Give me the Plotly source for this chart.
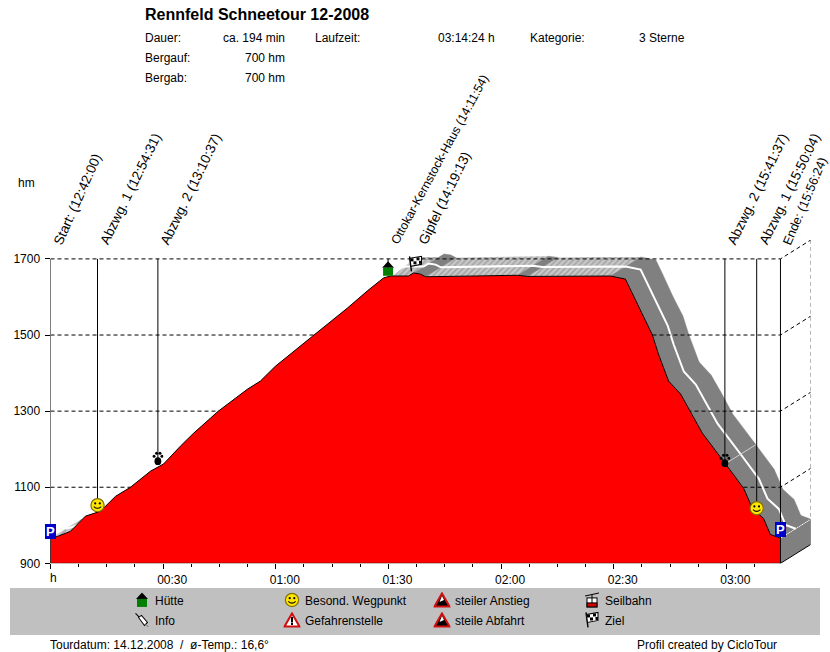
import base64
import plotly.graph_objects as go

W, H = 830, 652
FONT = "Liberation Sans"

# Hoehenprofil (minutes since start, hm)
profile_time = [0, 1.9, 5.3, 9.3, 13.3, 17.3, 21.3, 26.6, 30.1, 34.6, 38.1, 44.7, 52.5, 55.9, 59.9,
                69.8, 79.1, 84.4, 88.7, 90.5, 95.3, 96.7, 98.5, 99.9, 109.2, 124.4, 127.0, 137.1,
                149.1, 153.1, 155.0, 157.7, 160.3, 161.9, 164.6, 167.8, 170.4, 173.6, 179.8,
                184.6, 186.9, 189.9, 191.7, 194.4]
profile_height = [966, 971, 984, 1024, 1037, 1076, 1100, 1142, 1161, 1208, 1242, 1300, 1358, 1379, 1418,
                  1497, 1571, 1616, 1650, 1655, 1655, 1663, 1660, 1653, 1655, 1657, 1654, 1655,
                  1655, 1647, 1608, 1550, 1500, 1450, 1379, 1345, 1300, 1242, 1161,
                  1097, 1045, 1018, 976, 966]

# Wegpunkte: stem top is always the 1700 line
label_text = ["Start: (12:42:00)", "Abzwg. 1 (12:54:31)", "Abzwg. 2 (13:10:37)",
              "Ottokar-Kernstock-Haus (14:11:54)", "Gipfel (14:19:13)",
              "Abzwg. 2 (15:41:37)", "Abzwg. 1 (15:50:04)", "Ende: (15:56:24)"]
label_time = [0, 12.52, 28.6, 89.9, 97.2, 179.6, 188.07, 194.4]
stem_bottom = [900, 1053, 1176, 1674, 1687, 1171, 1045, 900]
icon_name = ["P", "smiley", "paw", "hut", "flag", "paw", "smiley", "P"]
icon_height = [984, 1053, 1176, 1674, 1687, 1171, 1045, 989]

grid_levels = [1700, 1500, 1300, 1100]
y_ticks = [900, 1100, 1300, 1500, 1700]
x_ticks = [0, 30, 60, 90, 120, 150, 180]
x_ticktext = ["", "00:30", "01:00", "01:30", "02:00", "02:30", "03:00"]
x_minor = [7.5, 15, 22.5, 37.5, 45, 52.5, 67.5, 75, 82.5, 97.5, 105, 112.5, 127.5, 135, 142.5,
           157.5, 165, 172.5, 187.5]

end_time = 194.4
depth_time = 8.12    # 3d offset of the back wall
depth_height = 50

header_rows = [("Dauer:", 145, "left", 38), ("ca. 194 min", 285, "right", 38),
               ("Laufzeit:", 315, "left", 38), ("03:14:24 h", 495, "right", 38),
               ("Kategorie:", 530, "left", 38), ("3 Sterne", 639, "left", 38),
               ("Bergauf:", 145, "left", 58), ("700 hm", 285, "right", 58),
               ("Bergab:", 145, "left", 78), ("700 hm", 285, "right", 78)]

legend_text = ["Hütte", "Info", "Besond. Wegpunkt", "Gefahrenstelle",
               "steiler Anstieg", "steile Abfahrt", "Seilbahn", "Ziel"]
legend_icon = ["hut", "pin", "smiley", "danger", "steep", "steep", "cable", "flag"]
legend_x = [155, 155, 305, 305, 455, 455, 605, 605]
legend_y = [600, 620, 600, 620, 600, 620, 600, 620]


def svg(w, h, body):
    raw = f'<svg xmlns="http://www.w3.org/2000/svg" width="{w}" height="{h}" viewBox="0 0 {w} {h}">{body}</svg>'
    return "data:image/svg+xml;base64," + base64.b64encode(raw.encode()).decode()


ICONS = {
    "hut": (12, 15, svg(12, 15, '<polygon points="6,0 12,6.5 0,6.5" fill="#000"/>'
                                '<rect x="1" y="6.5" width="10" height="8" fill="#008000"/>')),
    "smiley": (15, 15, svg(15, 15, '<circle cx="7.5" cy="7.5" r="6.6" fill="#ffe600" stroke="#807000" stroke-width="1.2"/>'
                                   '<circle cx="5.2" cy="5.8" r="1.1" fill="#000"/><circle cx="9.8" cy="5.8" r="1.1" fill="#000"/>'
                                   '<path d="M3.8 9 Q7.5 12.4 11.2 9" fill="none" stroke="#000" stroke-width="1"/>')),
    "paw": (11, 14, svg(11, 14, '<ellipse cx="5.5" cy="10" rx="3.4" ry="4" fill="#000"/>'
                                '<circle cx="1.6" cy="5" r="1.5" fill="#000"/><circle cx="4.2" cy="2" r="1.5" fill="#000"/>'
                                '<circle cx="7.6" cy="2" r="1.5" fill="#000"/><circle cx="9.6" cy="5" r="1.5" fill="#000"/>')),
    "flag": (14, 17, svg(14, 17, '<path d="M1 1 L3 16" stroke="#000" stroke-width="1.4"/>'
                                 '<polygon points="1.5,3 13,1 13,9 2.5,11" fill="#fff" stroke="#000"/>'
                                 '<rect x="2" y="3" width="3" height="3" fill="#000"/><rect x="8" y="2" width="3" height="3" fill="#000"/>'
                                 '<rect x="5" y="6" width="3" height="3" fill="#000"/><rect x="10.5" y="5.5" width="2.5" height="3" fill="#000"/>')),
    "pin": (15, 15, svg(15, 15, '<path d="M1 1 L5 5" stroke="#000"/>'
                                '<polygon points="4,5 7,3 13,10 10,13" fill="#fff" stroke="#000"/>'
                                '<path d="M11 12 L14 14.5" stroke="#808080"/>')),
    "danger": (17, 16, svg(17, 16, '<polygon points="8.5,1.5 16,14.5 1,14.5" fill="#fff" stroke="#d01010" stroke-width="2"/>'
                                   '<rect x="7.5" y="5" width="2" height="5.5" fill="#000"/><rect x="7.5" y="11" width="2" height="2" fill="#000"/>')),
    "steep": (17, 16, svg(17, 16, '<polygon points="8.5,1.5 16,14.5 1,14.5" fill="#000" stroke="#d01010" stroke-width="2"/>'
                                  '<polygon points="8.5,4 10.5,8 6,10" fill="#fff"/>')),
    "cable": (14, 16, svg(14, 16, '<path d="M0 4 L14 1" stroke="#000"/><path d="M7 3 V6" stroke="#000"/>'
                                  '<rect x="2" y="6" width="10" height="9" fill="#fff" stroke="#000"/>'
                                  '<rect x="2" y="11" width="10" height="4" fill="#d00000" stroke="#000"/>'
                                  '<path d="M7 6 V11" stroke="#000"/>')),
}


def px(x):
    return x / W


def py(y):
    return 1 - y / H


def page_text(text, x, y, anchor="left", size=12):
    return dict(text=text, x=px(x), y=py(y), xref="paper", yref="paper", xanchor=anchor, yanchor="middle",
                showarrow=False, borderpad=0, borderwidth=0, font=dict(family=FONT, size=size, color="#000"))


fig = go.Figure()

# 3d band behind the profile, one quad per profile segment
hatch_x, hatch_y, dark_x, dark_y = [], [], [], []
for i in range(len(profile_time) - 1):
    t0, t1 = profile_time[i], profile_time[i + 1]
    h0, h1 = profile_height[i], profile_height[i + 1]
    qx = [t0, t1, t1 + depth_time, t0 + depth_time, t0, None]
    qy = [h0, h1, h1 + depth_height, h0 + depth_height, h0, None]
    if h1 >= h0:
        hatch_x += qx
        hatch_y += qy
    else:
        dark_x += qx
        dark_y += qy

fig.add_trace(go.Scatter(x=hatch_x, y=hatch_y, mode="lines", fill="toself", line=dict(width=0),
                         fillcolor="#c0c0c0",
                         fillpattern=dict(shape="/", bgcolor="#c8c8c8", fgcolor="#808080", size=4, solidity=0.4)))
fig.add_trace(go.Scatter(x=dark_x, y=dark_y, mode="lines", fill="toself", line=dict(width=0.5, color="#808080"),
                         fillcolor="#808080"))

# end wall
end_h = profile_height[-1]
fig.add_trace(go.Scatter(x=[end_time, end_time + depth_time, end_time + depth_time, end_time, end_time],
                         y=[900, 900 + depth_height, end_h + depth_height, end_h, 900],
                         mode="lines", fill="toself", fillcolor="#808080", line=dict(color="#000", width=1)))
fig.add_trace(go.Scatter(x=[end_time, end_time + depth_time], y=[end_h, end_h + depth_height],
                         mode="lines", line=dict(color="#fff", width=1)))

# white centre line of the band
fig.add_trace(go.Scatter(x=[t + depth_time / 2 for t in profile_time],
                         y=[h + depth_height / 2 for h in profile_height],
                         mode="lines", line=dict(color="#fff", width=2)))
# thin cross line at the lower Abzwg. 2
fig.add_trace(go.Scatter(x=[label_time[5], label_time[5] + depth_time], y=[1161, 1161 + depth_height],
                         mode="lines", line=dict(color="#d0d0d0", width=1)))

# dashed grid with the back wall
for lvl in grid_levels:
    fig.add_trace(go.Scatter(x=[0, end_time, end_time + depth_time], y=[lvl, lvl, lvl + depth_height],
                             mode="lines", line=dict(color="#000", width=1, dash="4px,3px")))
fig.add_trace(go.Scatter(x=[end_time + depth_time] * 2, y=[1700 + depth_height, end_h + depth_height],
                         mode="lines", line=dict(color="#000", width=1, dash="4px,3px")))

# stems
for t, b in zip(label_time, stem_bottom):
    fig.add_trace(go.Scatter(x=[t, t], y=[1700, b], mode="lines", line=dict(color="#000", width=1)))

# red profile
fig.add_trace(go.Scatter(x=[0] + profile_time + [end_time, 0],
                         y=[900] + profile_height + [900, 900],
                         mode="lines", fill="toself", fillcolor="#ff0000",
                         line=dict(color="#000", width=1)))
fig.update_traces(cliponaxis=False, hoverinfo="skip", showlegend=False)

images, annotations = [], []


def add_icon(name, x, y, xref, yref, scale_x=1, scale_y=1):
    w, h, src = ICONS[name]
    images.append(dict(source=src, xref=xref, yref=yref, x=x, y=y, sizex=w * scale_x, sizey=h * scale_y,
                       xanchor="center", yanchor="middle", sizing="stretch", layer="above"))


# waypoints on the profile
for t, h, name in zip(label_time, icon_height, icon_name):
    if name == "P":
        annotations.append(dict(text="<b>P</b>", x=t, y=h, xref="x", yref="y", showarrow=False,
                                bgcolor="#0000cc", width=11, height=15, borderpad=0, borderwidth=0,
                                font=dict(family=FONT, size=13, color="#fff")))
    else:
        add_icon(name, t, h, "x", "y", 1 / 3.755, 1 / 0.38)

for text, t in zip(label_text, label_time):
    size, angle = 13.6, -64
    if text.startswith("Ottokar"):
        size, angle = 12.3, -61.5
    if text.startswith("Start"):
        angle = -66
    if text.startswith("Ende"):
        size, angle = 12.6, -67
    annotations.append(dict(text=text, x=t, y=1700, xref="x", yref="y", xanchor="left", yanchor="bottom",
                            xshift=0, yshift=12, textangle=angle, showarrow=False, borderpad=0, borderwidth=0,
                            font=dict(family=FONT, size=size, color="#000")))

# header and free text, in page pixels
annotations.append(page_text("<b>Rennfeld Schneetour 12-2008</b>", 145, 14, size=16))
for text, x, anchor, y in header_rows:
    annotations.append(page_text(text, x, y, anchor))
annotations.append(page_text("hm", 18, 183))
annotations.append(page_text("h", 50, 577))

# legend band
for text, name, x, y in zip(legend_text, legend_icon, legend_x, legend_y):
    annotations.append(page_text(text, x, y))
    add_icon(name, px(x - 13), py(y - 1), "paper", "paper", 1 / W, 1 / H)

annotations.append(page_text("Tourdatum: 14.12.2008  /  ø-Temp.: 16,6°", 50, 644))
annotations.append(page_text("Profil created by CicloTour", 637, 644))

fig.update_layout(
    width=W, height=H + 8, margin=dict(l=0, r=0, t=0, b=0, pad=0),
    paper_bgcolor="#fff", plot_bgcolor="#fff", showlegend=False,
    font=dict(family=FONT, size=12, color="#000"),
    images=images, annotations=annotations,
    shapes=[dict(type="rect", xref="paper", yref="paper", x0=px(10), x1=px(820), y0=py(587), y1=py(634),
                 fillcolor="#c0c0c0", line_width=0, layer="below")],
    xaxis=dict(domain=[px(50.5), px(810.5)], range=[0, 202.4], showgrid=False, zeroline=False, showline=False,
               tickmode="array", tickvals=x_ticks, ticktext=x_ticktext, ticks="outside", ticklen=5,
               tickcolor="#000", ticklabelshift=9,
               minor=dict(tickmode="array", tickvals=x_minor, ticks="outside", ticklen=3, tickcolor="#000")),
    yaxis=dict(domain=[py(562.5), py(239.5)], range=[900, 1750], showgrid=False, zeroline=False, showline=False,
               tickmode="array", tickvals=y_ticks, ticks="outside", ticklen=5, tickcolor="#000",
               ticklabelstandoff=2),
)

fig.write_html("out.html", config={"displayModeBar": False}, post_script="document.body.style.margin='0';")
